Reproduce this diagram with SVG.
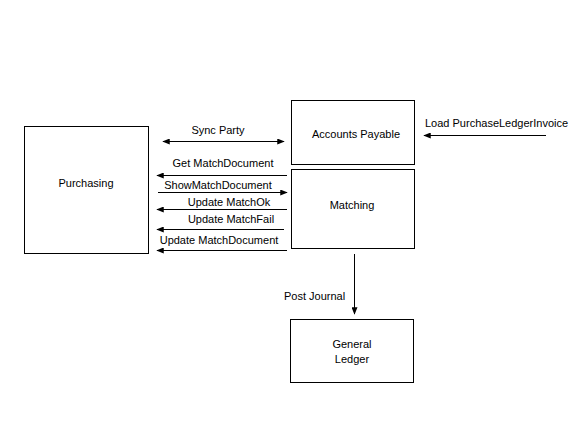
<svg xmlns="http://www.w3.org/2000/svg" width="587" height="439" viewBox="0 0 587 439">
<style>
.box{fill:#fff;stroke:#000;stroke-width:1}
.t{font-family:"Liberation Sans",Arial,sans-serif;font-size:11px;fill:#000}
.c{text-anchor:middle}
.ln{stroke:#000;stroke-width:1;fill:none}
</style>
<defs>
<marker id="ah" viewBox="0 0 10 8" refX="9" refY="4" markerWidth="8" markerHeight="6" markerUnits="userSpaceOnUse" orient="auto-start-reverse">
<path d="M0,0 L10,4 L0,8 Z" fill="#000"/>
</marker>
</defs>
<rect width="587" height="439" fill="#fff"/>
<g id="purchasing"><rect class="box" x="24.5" y="126.5" width="124" height="127"/><text class="t c" x="86" y="187">Purchasing</text></g>
<g id="accounts-payable"><rect class="box" x="291.5" y="100.5" width="123" height="64"/><text class="t c" x="356" y="138">Accounts Payable</text></g>
<g id="matching"><rect class="box" x="291.5" y="169.5" width="123" height="79"/><text class="t c" x="352" y="209">Matching</text></g>
<g id="general-ledger"><rect class="box" x="290.5" y="319.5" width="123" height="63"/><text class="t c" x="352" y="348">General</text><text class="t c" x="352" y="363">Ledger</text></g>
<g id="connectors">
<line class="ln" x1="163" y1="141.5" x2="284" y2="141.5" marker-start="url(#ah)" marker-end="url(#ah)"/>
<text class="t c" x="218" y="134">Sync Party</text>
<line class="ln" x1="287" y1="175.5" x2="157" y2="175.5" marker-end="url(#ah)"/>
<text class="t c" x="223" y="167">Get MatchDocument</text>
<line class="ln" x1="158" y1="192.5" x2="287" y2="192.5" marker-end="url(#ah)"/>
<text class="t c" x="218" y="189">ShowMatchDocument</text>
<line class="ln" x1="287" y1="209.5" x2="157" y2="209.5" marker-end="url(#ah)"/>
<text class="t c" x="229" y="206">Update MatchOk</text>
<line class="ln" x1="284" y1="229.5" x2="157" y2="229.5" marker-end="url(#ah)"/>
<text class="t c" x="231" y="223">Update MatchFail</text>
<line class="ln" x1="287" y1="250.5" x2="157" y2="250.5" marker-end="url(#ah)"/>
<text class="t c" x="219" y="244">Update MatchDocument</text>
<line class="ln" x1="546" y1="135.5" x2="424" y2="135.5" marker-end="url(#ah)"/>
<text class="t" x="425" y="127">Load PurchaseLedgerInvoice</text>
<line class="ln" x1="354.5" y1="254" x2="354.5" y2="314" marker-end="url(#ah)"/>
<text class="t" x="284" y="300">Post Journal</text>
</g>
</svg>
